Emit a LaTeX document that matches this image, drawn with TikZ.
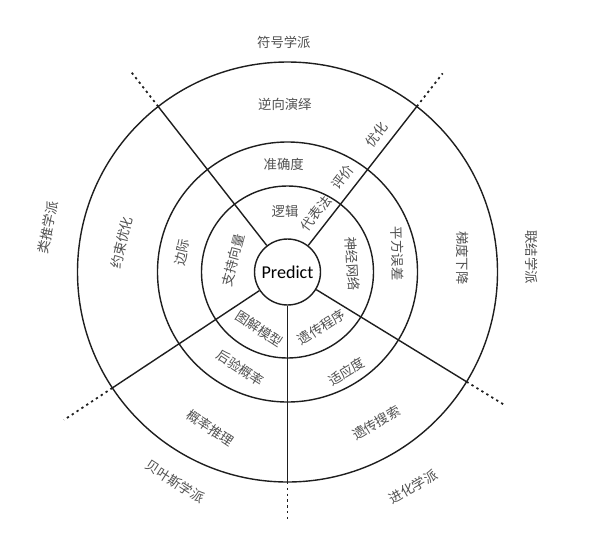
\documentclass[tikz,border=0pt]{standalone}
\usepackage{fontspec}
\setsansfont{Carlito}
\newfontfamily\cjk{Noto Sans CJK SC}
\definecolor{schooltext}{HTML}{505050}
\definecolor{ringline}{HTML}{1E1E1E}

\begin{document}
\begin{tikzpicture}[scale=0.02,
  ring/.style={draw=ringline, line width=0.8pt},
  spoke/.style={draw=ringline, line width=0.8pt},
  ext/.style={draw=ringline, line width=1pt, dash pattern=on 1.3pt off 2pt},
  lbl/.style={font=\cjk\fontsize{7.6}{8}\selectfont, text=schooltext, inner sep=0pt}]

\useasboundingbox (-287.5,-281) rectangle (304.5,272);

\draw[ring] (0,0) circle (86);
\draw[ring] (0,0) circle (130);
\draw[ring] (0,0) circle (210);
\node[ring, circle, minimum size=1.32cm, inner sep=0pt, font=\sffamily\fontsize{10.3}{11}\selectfont] (predict) at (0,0) {Predict};

\coordinate (rimNE) at (52:210);    \coordinate (tipNE) at (52:252);
\coordinate (rimNW) at (128:210);   \coordinate (tipNW) at (128:254);
\coordinate (rimSW) at (213.5:210); \coordinate (tipSW) at (213.5:268);
\coordinate (rimS)  at (270:210);   \coordinate (tipS)  at (270:248);
\coordinate (rimSE) at (328.5:210); \coordinate (tipSE) at (328.5:254);

\draw[spoke] (predict) -- (rimNE);
\draw[spoke] (predict) -- (rimNW);
\draw[spoke] (predict) -- (rimSW);
\draw[spoke] (predict) -- (rimS);
\draw[spoke] (predict) -- (rimSE);
\draw[ext] (rimNE) -- (tipNE);
\draw[ext] (rimNW) -- (tipNW);
\draw[ext] (rimSW) -- (tipSW);
\draw[ext] (rimS)  -- (tipS);
\draw[ext] (rimSE) -- (tipSE);

\node[lbl]             (symbolists)     at ( 90.9:230)   {符号学派};
\node[lbl]             (invdeduction)   at ( 90.9:168)   {逆向演绎};
\node[lbl]             (accuracy)       at ( 92.0:108)   {准确度};
\node[lbl]             (logic)          at ( 92.3:61)    {逻辑};
\node[lbl, rotate=52]  (optimize)       at ( 57.0:164)   {优化};
\node[lbl, rotate=52]  (evaluate)       at ( 59.8:110)   {评价};
\node[lbl, rotate=52]  (represent)      at ( 64.0:65)    {代表法};

\node[lbl, rotate=-90] (connectionists) at (  3.5:245)   {联结学派};
\node[lbl, rotate=-90] (gradient)       at (  4.6:176)   {梯度下降};
\node[lbl, rotate=-89] (sqerror)        at (  9.5:111.5) {平方误差};
\node[lbl, rotate=-87] (neuralnet)      at (  7.0:65.5)  {神经网络};

\node[lbl, rotate=78]  (analogizers)    at (169.4:243.7) {类推学派};
\node[lbl, rotate=76]  (constrained)    at (170.0:168.5) {约束优化};
\node[lbl, rotate=78]  (margin)         at (169.3:107.4) {边际};
\node[lbl, rotate=75]  (svm)            at (167.6:55.8)  {支持向量};

\node[lbl, rotate=-33] (graphmodel)     at (243.8:63.5)  {图解模型};
\node[lbl, rotate=-33] (posterior)      at (243.9:107)   {后验概率};
\node[lbl, rotate=-34] (probinfer)      at (243.6:174)   {概率推理};
\node[lbl, rotate=-33] (bayesians)      at (241.8:238)   {贝叶斯学派};

\node[lbl, rotate=33]  (genprog)        at (301.7:64.7)  {遗传程序};
\node[lbl, rotate=31]  (fitness)        at (300.7:115.7) {适应度};
\node[lbl, rotate=31]  (gensearch)      at (300.5:175)   {遗传搜索};
\node[lbl, rotate=30]  (evolutionaries) at (300.4:248.8) {进化学派};
\end{tikzpicture}
\end{document}
